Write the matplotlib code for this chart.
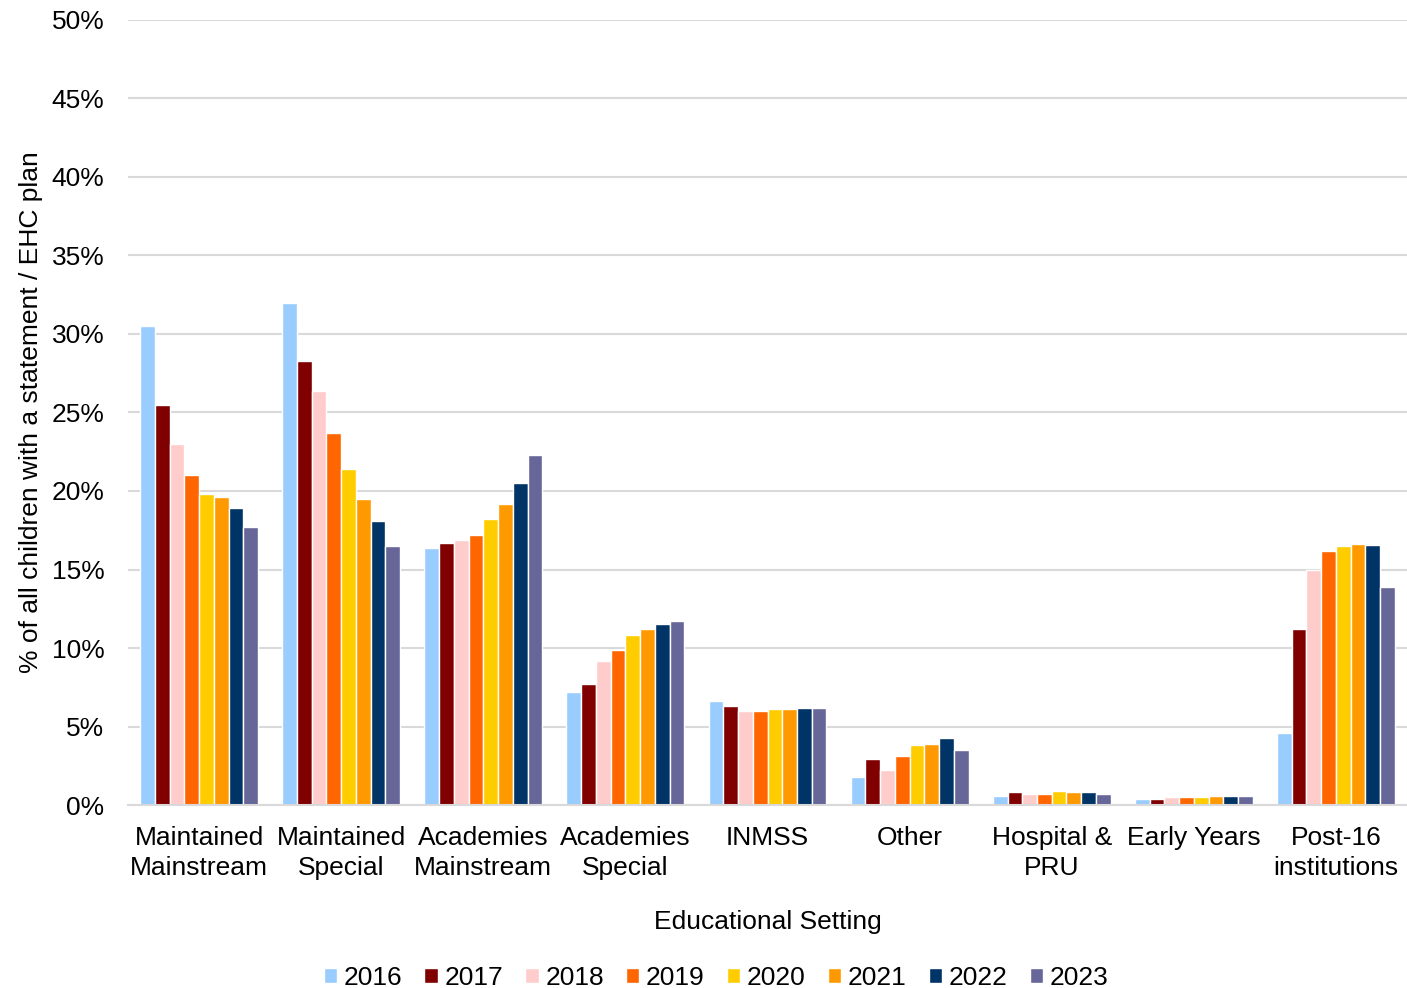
import matplotlib
matplotlib.use('Agg')
import matplotlib.pyplot as plt
import numpy as np
from matplotlib.ticker import FuncFormatter

plt.rcParams['font.family'] = ['Liberation Sans', 'DejaVu Sans']

CATEGORIES = ['Maintained\nMainstream', 'Maintained\nSpecial', 'Academies\nMainstream',
              'Academies\nSpecial', 'INMSS', 'Other', 'Hospital &\nPRU', 'Early Years',
              'Post-16\ninstitutions']
YEARS = ['2016', '2017', '2018', '2019', '2020', '2021', '2022', '2023']
COLORS = ['#99CCFF', '#800000', '#FFCCCC', '#FF6600', '#FFCC00', '#FF9900', '#003366', '#666699']

# % of all children with a statement / EHC plan, per year, per setting
V2016 = [30.5, 32.0, 16.4, 7.2, 6.6, 1.8, 0.6, 0.4, 4.6]
V2017 = [25.5, 28.3, 16.7, 7.7, 6.3, 2.9, 0.8, 0.4, 11.2]
V2018 = [23.0, 26.4, 16.9, 9.2, 6.0, 2.2, 0.7, 0.5, 15.0]
V2019 = [21.0, 23.7, 17.2, 9.9, 6.0, 3.1, 0.7, 0.5, 16.2]
V2020 = [19.8, 21.4, 18.2, 10.8, 6.1, 3.8, 0.9, 0.5, 16.5]
V2021 = [19.6, 19.5, 19.2, 11.2, 6.1, 3.9, 0.8, 0.55, 16.65]
V2022 = [18.9, 18.1, 20.5, 11.5, 6.2, 4.3, 0.8, 0.55, 16.55]
V2023 = [17.7, 16.5, 22.3, 11.7, 6.2, 3.5, 0.7, 0.6, 13.9]
SERIES = [V2016, V2017, V2018, V2019, V2020, V2021, V2022, V2023]

FS = 19

fig = plt.figure(figsize=(14.07, 9.88), dpi=100)
ax = fig.add_axes([0.091, 0.1852, 0.909, 0.7946])

x = np.arange(len(CATEGORIES))
n = len(SERIES)
slot = 0.83 / n
for i, (vals, yr, col) in enumerate(zip(SERIES, YEARS, COLORS)):
    ax.bar(x + (i - (n - 1) / 2) * slot, vals, width=slot, color=col,
           edgecolor='white', linewidth=1.0, label=yr, zorder=2)

ax.set_xlim(-0.5, len(CATEGORIES) - 0.5)
ax.set_ylim(0, 50)
ax.set_yticks(np.arange(0, 51, 5))
ax.yaxis.set_major_formatter(FuncFormatter(lambda v, p: f'{v:.0f}%'))
ax.set_xticks(x)
ax.set_xticklabels(CATEGORIES, fontsize=FS, linespacing=1.3)
ax.tick_params(axis='y', labelsize=FS, length=0, pad=17)
ax.tick_params(axis='x', length=0, pad=15)
ax.grid(axis='y', color='#D9D9D9', linewidth=1.5, zorder=0)
ax.set_axisbelow(True)
for s in ['top', 'right', 'left']:
    ax.spines[s].set_visible(False)
ax.spines['bottom'].set_color('#D9D9D9')
ax.spines['bottom'].set_linewidth(1.5)

ax.set_xlabel('Educational Setting', fontsize=FS, labelpad=22)
ax.set_ylabel('% of all children with a statement / EHC plan', fontsize=FS, labelpad=6)

fig.legend(loc='lower center', bbox_to_anchor=(0.509, -0.026), ncol=8, frameon=False,
           fontsize=FS, handlelength=0.5, handleheight=0.5, handletextpad=0.25,
           columnspacing=0.85)

fig.savefig('out.png', dpi=100, facecolor='white')
